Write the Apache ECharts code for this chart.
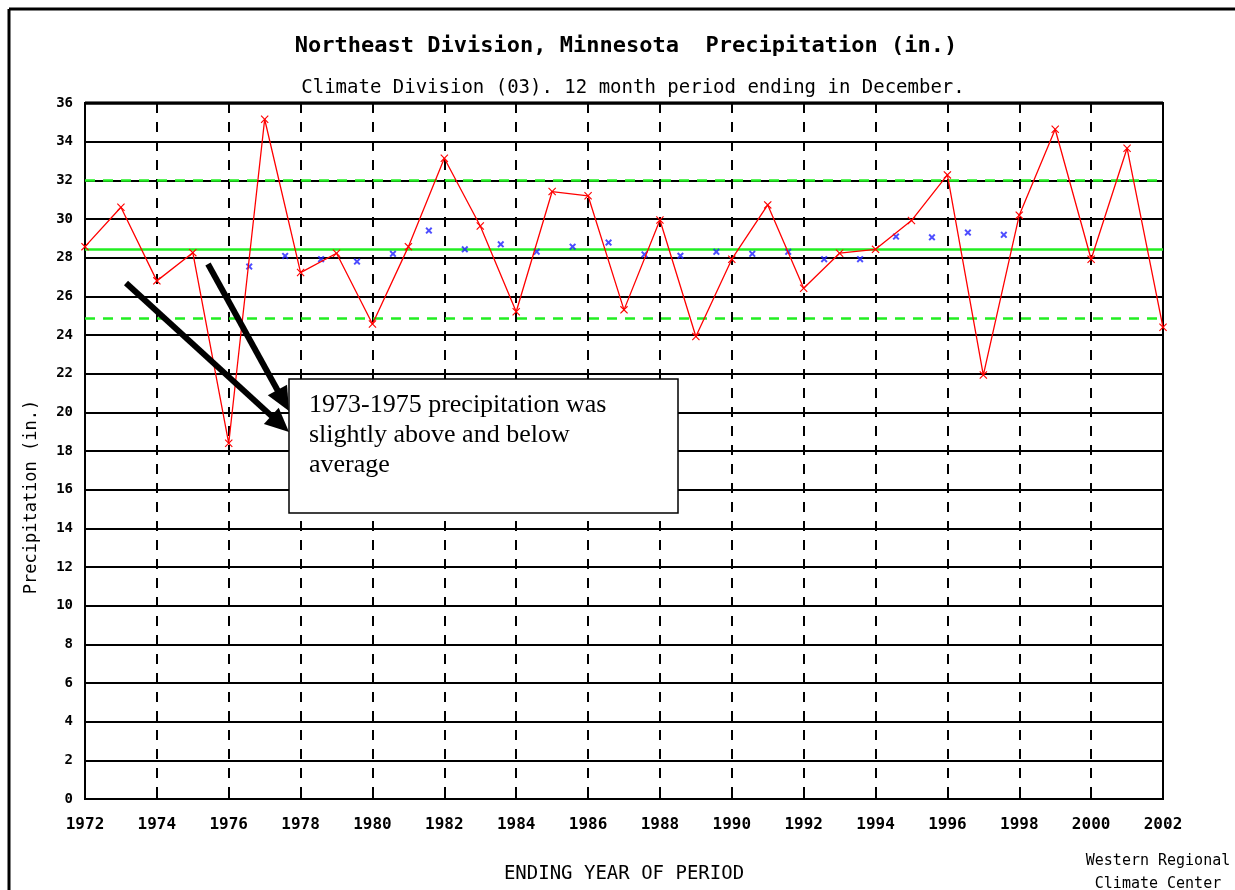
<!DOCTYPE html>
<html>
<head>
<meta charset="utf-8">
<script src="https://cdn.jsdelivr.net/npm/echarts@6/dist/echarts.min.js"></script>
<style>
html,body{margin:0;padding:0;background:#fff;}
#chart{width:1235px;height:890px;}
</style>
</head>
<body>
<div id="chart"></div>
<script>
// ---- data ----
const years = [1972,1973,1974,1975,1976,1977,1978,1979,1980,1981,1982,1983,1984,1985,1986,1987,1988,1989,1990,1991,1992,1993,1994,1995,1996,1997,1998,1999,2000,2001,2002];
const precip = [28.57,30.61,26.8,28.26,18.4,35.16,27.23,28.23,24.57,28.57,33.14,29.64,25.2,31.42,31.2,25.3,29.95,23.92,27.92,30.73,26.42,28.23,28.43,29.92,32.28,21.93,30.2,34.64,27.92,33.66,24.4];
const avgYears = [1976.57,1977.57,1978.57,1979.57,1980.57,1981.57,1982.57,1983.57,1984.57,1985.57,1986.57,1987.57,1988.57,1989.57,1990.57,1991.57,1992.57,1993.57,1994.57,1995.57,1996.57,1997.57];
const avgVals = [27.54,28.09,27.92,27.8,28.2,29.4,28.43,28.69,28.31,28.57,28.78,28.17,28.1,28.3,28.2,28.3,27.92,27.92,29.09,29.05,29.3,29.18];
const meanValue = 28.44;
const upperValue = 32.02;
const lowerValue = 24.86;

const titleText = 'Northeast Division, Minnesota  Precipitation (in.)';
const subtitleText = 'Climate Division (03). 12 month period ending in December.';
const xName = 'ENDING YEAR OF PERIOD';
const yName = 'Precipitation (in.)';
const creditLines = ['Western Regional', 'Climate Center'];
const noteLines = ['1973-1975 precipitation was', 'slightly above and below', 'average'];

// ---- chart ----
const mono = '"DejaVu Sans Mono", "Liberation Mono", monospace';
const xMark = 'path://M0,1L1,0L5,4L9,0L10,1L6,5L10,9L9,10L5,6L1,10L0,9L4,5Z';
const xMarkBold = 'path://M0,2L2,0L5,3L8,0L10,2L7,5L10,8L8,10L5,7L2,10L0,8L3,5Z';

const chart = echarts.init(document.getElementById('chart'), null, {renderer: 'canvas'});

function arrow(sx, sy, tx, ty) {
  const dx = tx - sx, dy = ty - sy;
  const len = Math.sqrt(dx * dx + dy * dy);
  const ux = dx / len, uy = dy / len;
  const hl = 24, hw = 11;
  const bx = tx - hl * ux, by = ty - hl * uy;
  const px = -uy, py = ux;
  return [
    {type: 'line', shape: {x1: sx, y1: sy, x2: bx + ux * 2, y2: by + uy * 2}, style: {stroke: '#000', lineWidth: 6}},
    {type: 'polygon', shape: {points: [[tx, ty], [bx + hw * px, by + hw * py], [bx - hw * px, by - hw * py]]}, style: {fill: '#000'}}
  ];
}

const option = {
  animation: false,
  backgroundColor: '#fff',
  title: [
    {text: titleText, left: 621, top: 30, textAlign: 'center',
     textStyle: {fontFamily: mono, fontSize: 22, fontWeight: 'bold', color: '#000'}},
    {text: subtitleText, left: 628, top: 74, textAlign: 'center',
     textStyle: {fontFamily: mono, fontSize: 19, fontWeight: 'normal', color: '#000'}},
    {text: creditLines.join('\n'), left: 1153, top: 845, textAlign: 'center',
     textStyle: {fontFamily: mono, fontSize: 15, fontWeight: 'normal', color: '#000', lineHeight: 23}}
  ],
  grid: {left: 85, right: 72, top: 103, bottom: 91, show: true, borderColor: '#000', borderWidth: 2},
  xAxis: {
    type: 'value', min: 1972, max: 2002, interval: 2,
    name: xName, nameLocation: 'middle', nameGap: 66,
    nameTextStyle: {fontFamily: mono, fontSize: 19, color: '#000'},
    axisLine: {show: true, lineStyle: {color: '#000', width: 2}},
    axisTick: {show: true, inside: true, length: 5, lineStyle: {color: '#000', width: 2}},
    axisLabel: {fontFamily: mono, fontSize: 16, fontWeight: 'bold', color: '#000', margin: 18,
                formatter: v => String(v)},
    splitLine: {show: true, lineStyle: {color: '#000', width: 2, type: [10, 9]}}
  },
  yAxis: {
    type: 'value', min: 0, max: 36, interval: 2,
    axisLine: {show: true, lineStyle: {color: '#000', width: 2}},
    axisTick: {show: false},
    axisLabel: {fontFamily: mono, fontSize: 14, fontWeight: 'bold', color: '#000', margin: 12},
    splitLine: {show: true, lineStyle: {color: '#000', width: 2.2}}
  },
  series: [
    {
      type: 'line', data: years.map((y, i) => [y, precip[i]]),
      symbol: xMark, symbolSize: 8, showSymbol: true,
      lineStyle: {color: '#ff0000', width: 1.3},
      itemStyle: {color: '#ff0000'},
      z: 5,
      markLine: {
        silent: true, symbol: 'none', label: {show: false},
        data: [
          {yAxis: meanValue, lineStyle: {color: '#22ee22', width: 2.5, type: 'solid'}},
          {yAxis: upperValue, lineStyle: {color: '#22ee22', width: 2.5, type: [10, 8]}},
          {yAxis: lowerValue, lineStyle: {color: '#22ee22', width: 2.5, type: [10, 8]}}
        ],
        z: 3
      }
    },
    {
      type: 'scatter', data: avgYears.map((y, i) => [y, avgVals[i]]),
      symbol: xMarkBold, symbolSize: 7,
      itemStyle: {color: '#2020ff'}, z: 4
    },
    {
      type: 'line', data: [[1972, 36], [2002, 36]], symbol: 'none',
      lineStyle: {color: '#000', width: 3.5}, z: 2, silent: true
    }
  ],
  graphic: [
    {type: 'line', shape: {x1: 9, y1: 9, x2: 1235, y2: 9}, style: {stroke: '#000', lineWidth: 3}},
    {type: 'line', shape: {x1: 9, y1: 9, x2: 9, y2: 890}, style: {stroke: '#000', lineWidth: 3}},
    {type: 'text', x: 32, y: 497, rotation: Math.PI / 2,
     style: {text: yName, font: '17px ' + mono, fill: '#000', textAlign: 'center', textVerticalAlign: 'middle', align: 'center', verticalAlign: 'middle'}},
    {type: 'rect', shape: {x: 289, y: 379, width: 389, height: 134}, style: {fill: '#fff', stroke: '#000', lineWidth: 1.5}, z: 100},
    {type: 'text', left: 309, top: 390, z: 101,
     style: {text: noteLines.join('\n'), font: '26px "Liberation Serif", "Times New Roman", serif', fill: '#000', lineHeight: 30}},
    ...arrow(126, 283, 289, 432).map(g => Object.assign(g, {z: 99})),
    ...arrow(208, 264, 289, 411).map(g => Object.assign(g, {z: 99}))
  ]
};
chart.setOption(option);
</script>
</body>
</html>
